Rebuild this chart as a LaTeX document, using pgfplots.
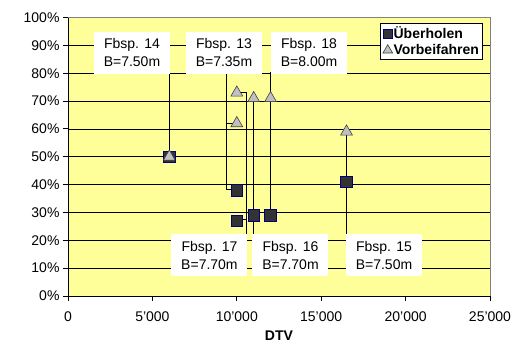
\documentclass[border=0pt]{standalone}
\usepackage{pgfplots}
\pgfplotsset{compat=1.18}
\usepackage{fontspec}
\setmainfont{Liberation Sans}
\definecolor{plotbg}{RGB}{255,255,153}
\definecolor{sqfill}{RGB}{51,51,51}
\definecolor{sqdraw}{RGB}{0,0,128}
\definecolor{trifill}{RGB}{192,192,192}
\definecolor{tridraw}{RGB}{64,64,64}
\begin{document}
\begin{tikzpicture}
\useasboundingbox (-68pt,-51pt) rectangle (460pt,296pt);
\begin{axis}[
  at={(0,0)}, anchor=south west,
  scale only axis, width=422pt, height=278.5pt,
  xmin=0, xmax=25000, ymin=0, ymax=100,
  scaled x ticks=false,
  xtick={0,5000,10000,15000,20000,25000},
  xticklabels={0,5'000,10'000,15'000,20'000,25'000},
  ytick={0,10,...,100},
  yticklabel={\pgfmathprintnumber{\tick}\%},
  /pgf/number format/assume math mode=true,
  tick label style={font=\fontsize{14}{16}\selectfont},
  xticklabel style={yshift=-7pt},
  ymajorgrids, grid style={black, line width=0.6pt},
  axis background/.style={fill=plotbg},
  axis line style={line width=0.8pt},
  separate axis lines,
  x axis line style={-}, y axis line style={-},
  axis x line*=bottom, axis y line*=left,
  tick align=outside, major tick length=5pt,
  tick style={black, line width=0.8pt},
  xlabel={\textbf{DTV}},
  xlabel style={font=\fontsize{14}{16}\selectfont, yshift=-3pt},
  legend style={at={(0.983,0.980)}, anchor=north east, draw=black,
    line width=0.8pt, fill=white, font=\fontsize{14}{16}\selectfont\bfseries,
    inner sep=2.5pt, row sep=2pt,
    nodes={inner sep=1pt}},
  legend cell align=left,
  clip=false,
]
% plot area frame on top and right
\draw[gray, line width=0.8pt] (axis cs:0,100) -- (axis cs:25000,100) -- (axis cs:25000,0);

% leader lines of the data labels
\addplot[black, line width=0.7pt, forget plot] coordinates {(6000,80.3) (6000,50)};
\addplot[black, line width=0.7pt, forget plot] coordinates {(9360,80.3) (9360,38.3) (10000,38.3)};
\addplot[black, line width=0.7pt, forget plot] coordinates {(9360,62) (9800,62)};
\addplot[black, line width=0.7pt, forget plot] coordinates {(11970,80.3) (11970,29)};
\addplot[black, line width=0.7pt, forget plot] coordinates {(10000,73.3) (10550,73.3) (10550,22.3)};
\addplot[black, line width=0.7pt, forget plot] coordinates {(10000,27.5) (10550,27.5)};
\addplot[black, line width=0.7pt, forget plot] coordinates {(11000,71) (11000,22.3)};
\addplot[black, line width=0.7pt, forget plot] coordinates {(16500,59) (16500,22.3)};

% Überholen
\addplot[only marks, mark=square*, mark size=5.8pt,
  mark options={fill=sqfill, draw=sqdraw, line width=0.6pt},
  legend image code/.code={\draw[mark=square*, mark size=4.6pt, fill=sqfill, draw=sqdraw, line width=0.6pt] plot coordinates {(0.2cm,0cm)};}]
  coordinates {(6000,50) (10000,38) (10000,27) (11000,29) (12000,29) (16500,41)};
\addlegendentry{Überholen}
% Vorbeifahren
\addplot[only marks, mark=triangle*, mark size=6.8pt,
  mark options={fill=trifill, draw=tridraw, line width=0.6pt},
  legend image code/.code={\draw[mark=triangle*, mark size=5.6pt, fill=trifill, draw=tridraw, line width=0.6pt] plot coordinates {(0.2cm,0cm)};}]
  coordinates {(6000,50) (10000,73) (10000,62) (11000,71) (12000,71) (16500,59)};
\addlegendentry{Vorbeifahren}

% data labels
\tikzset{lbl/.style={fill=white, align=center, inner sep=0pt,
  minimum width=76pt, minimum height=42pt,
  font=\fontsize{14}{18}\selectfont}}
\node[lbl] at (axis cs:3790,87.4) {Fbsp. 14\\B=7.50m};
\node[lbl] at (axis cs:9240,87.4) {Fbsp. 13\\B=7.35m};
\node[lbl] at (axis cs:14280,87.4) {Fbsp. 18\\B=8.00m};
\node[lbl] at (axis cs:8380,14.7) {Fbsp. 17\\B=7.70m};
\node[lbl] at (axis cs:13180,14.7) {Fbsp. 16\\B=7.70m};
\node[lbl] at (axis cs:18720,14.7) {Fbsp. 15\\B=7.50m};
\end{axis}
\end{tikzpicture}
\end{document}
